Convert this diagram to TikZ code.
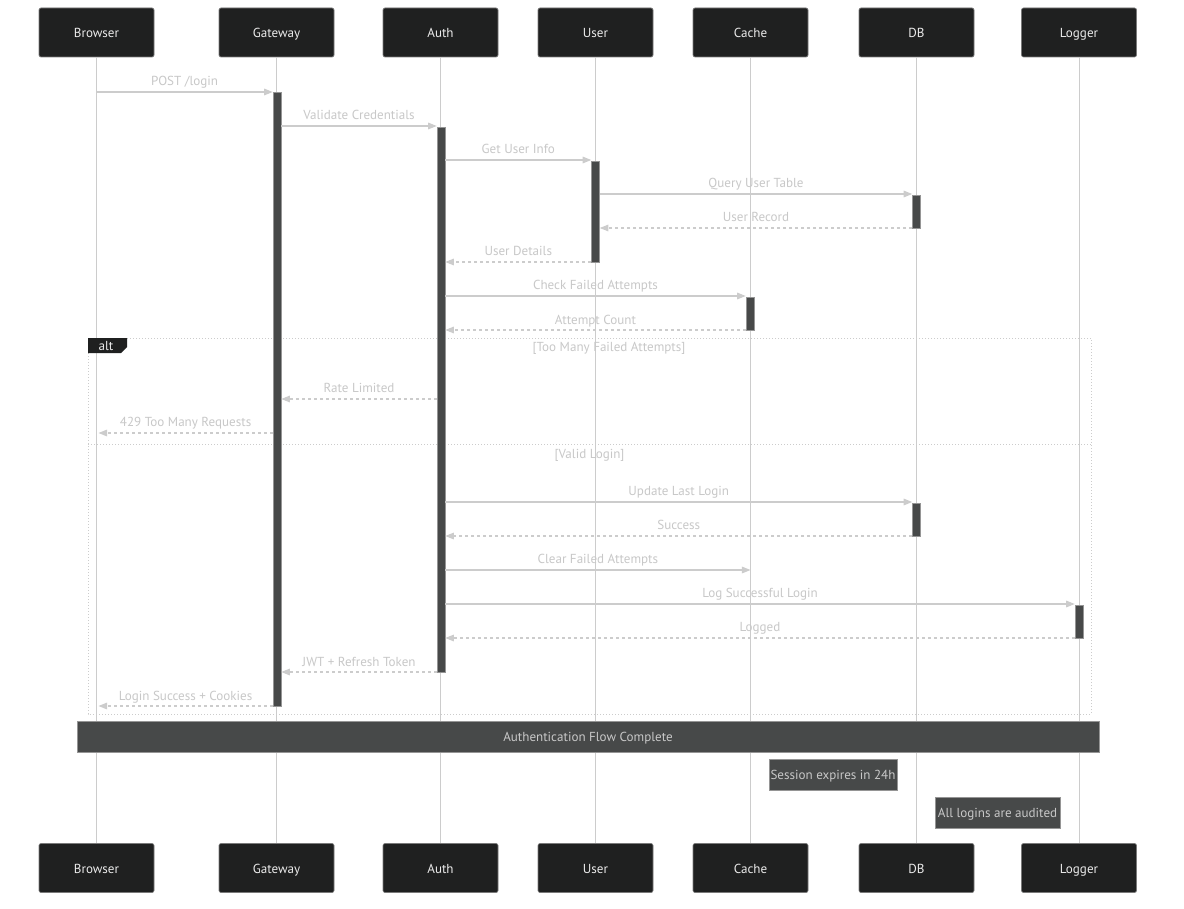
\documentclass[tikz,border=0pt]{standalone}
\usepackage{fontspec}
\setmainfont{PT Sans}
\usetikzlibrary{arrows.meta}
\definecolor{boxfill}{HTML}{1F2020}
\definecolor{actfill}{HTML}{474949}
\definecolor{linec}{HTML}{CCCCCC}
\definecolor{txtc}{HTML}{C8C8C8}
\definecolor{edgec}{HTML}{7A7A7A}
\begin{document}
\begin{tikzpicture}[x=0.75pt,y=-0.75pt,
  txt/.style={font=\fontsize{9.8}{11}\selectfont, text height=0.82em, text depth=0pt},
  part/.style={txt, rectangle, rounded corners=1.5pt, fill=boxfill, draw=edgec, line width=0.5pt,
    minimum width=86.25pt, minimum height=36.75pt, text=white!92!black, inner sep=0pt},
  life/.style={draw=linec, line width=0.75pt},
  act/.style={rectangle, fill=actfill, draw=edgec!80!white, line width=0.4pt, minimum width=6pt, inner sep=0pt, anchor=north},
  msg/.style={draw=linec, line width=0.8pt, -{Triangle[length=6.5pt,width=5pt]}},
  ret/.style={msg, dash pattern=on 2.25pt off 2.25pt},
  lbl/.style={txt, text=txtc, inner sep=0pt},
  mlbl/.style={lbl, midway, yshift=9.3pt},
  note/.style={txt, rectangle, fill=actfill, draw=edgec!80!white, line width=0.5pt, text=txtc, inner sep=0pt},
  frame/.style={draw=linec, line width=0.75pt, dash pattern=on 0.75pt off 1.5pt}
]
\useasboundingbox[fill=white] (0,0) rectangle (1184,909);

% participants
\foreach \n/\t/\x in {B/Browser/96.5, G/Gateway/276.5, A/Auth/440.5, U/User/595.5, C/Cache/750.5, D/DB/916.5, L/Logger/1079}{
  \node[part] (p\n) at (\x,32.5) {\t};
  \node[part] (q\n) at (\x,868) {\t};
  \draw[life] (p\n.south) -- (q\n.north);
}

% alt frame
\draw[frame] (88,338) rectangle (1091,714);
\draw[frame] (88,444) -- (1091,444);
\fill[boxfill] (88,338) -- (127,338) -- (127,347) -- (121,353) -- (88,353) -- cycle;
\node[lbl, text=white!92!black] (altl) at (106,345.5) {alt};
\node[lbl] (sec1) at (609,346.5) {[Too Many Failed Attempts]};
\node[lbl] (sec2) at (589.5,453.5) {[Valid Login]};

% activations
\node[act, minimum height={(706-92)*0.75pt}] (aG) at (277,92) {};
\node[act, minimum height={(672-127)*0.75pt}] (aA) at (441,127) {};
\node[act, minimum height={(262-161)*0.75pt}] (aU) at (595.5,161) {};
\node[act, minimum height={(228-195)*0.75pt}] (aD1) at (916.5,195) {};
\node[act, minimum height={(330-297)*0.75pt}] (aC) at (750,297) {};
\node[act, minimum height={(536-503)*0.75pt}] (aD2) at (916.5,503) {};
\node[act, minimum height={(638-605)*0.75pt}] (aL) at (1079,605) {};

% messages
\draw[msg] (pB |- 0,92) -- node[mlbl] {POST /login} (aG.west |- 0,92);
\draw[msg] (aG.east |- 0,126) -- node[mlbl] {Validate Credentials} (aA.west |- 0,126);
\draw[msg] (aA.east |- 0,160) -- node[mlbl] {Get User Info} (aU.west |- 0,160);
\draw[msg] (aU.east |- 0,194) -- node[mlbl] {Query User Table} (aD1.west |- 0,194);
\draw[ret] (aD1.west |- 0,228) -- node[mlbl] {User Record} (aU.east |- 0,228);
\draw[ret] (aU.west |- 0,262) -- node[mlbl] {User Details} (aA.east |- 0,262);
\draw[msg] (aA.east |- 0,296) -- node[mlbl] {Check Failed Attempts} (aC.west |- 0,296);
\draw[ret] (aC.west |- 0,330) -- node[mlbl, yshift=-0.75pt] {Attempt Count} (aA.east |- 0,330);
\draw[ret] (aA.west |- 0,399) -- node[mlbl] {Rate Limited} (aG.east |- 0,399);
\draw[ret] (aG.west |- 0,433) -- node[mlbl] {429 Too Many Requests} ([xshift=1.5pt]pB.center |- 0,433);
\draw[msg] (aA.east |- 0,502) -- node[mlbl] {Update Last Login} (aD2.west |- 0,502);
\draw[ret] (aD2.west |- 0,536) -- node[mlbl] {Success} (aA.east |- 0,536);
\draw[msg] (aA.east |- 0,570) -- node[mlbl] {Clear Failed Attempts} (pC |- 0,570);
\draw[msg] (aA.east |- 0,604) -- node[mlbl] {Log Successful Login} (aL.west |- 0,604);
\draw[ret] (aL.west |- 0,638) -- node[mlbl] {Logged} (aA.east |- 0,638);
\draw[ret] (aA.west |- 0,672) -- node[mlbl, yshift=-0.75pt] {JWT + Refresh Token} (aG.east |- 0,672);
\draw[ret] (aG.west |- 0,706) -- node[mlbl, yshift=-0.75pt] {Login Success + Cookies} ([xshift=1.5pt]pB.center |- 0,706);

% notes
\node[note, minimum width={(1099-77)*0.75pt}, minimum height=23.25pt] (n1) at (588,736.5) {Authentication Flow Complete};
\node[note, minimum width=96pt, minimum height=23.25pt] (n2) at (833,774.5) {Session expires in 24h};
\node[note, minimum width=93.75pt, minimum height=23.25pt] (n3) at (997.5,812.5) {All logins are audited};
\end{tikzpicture}
\end{document}
